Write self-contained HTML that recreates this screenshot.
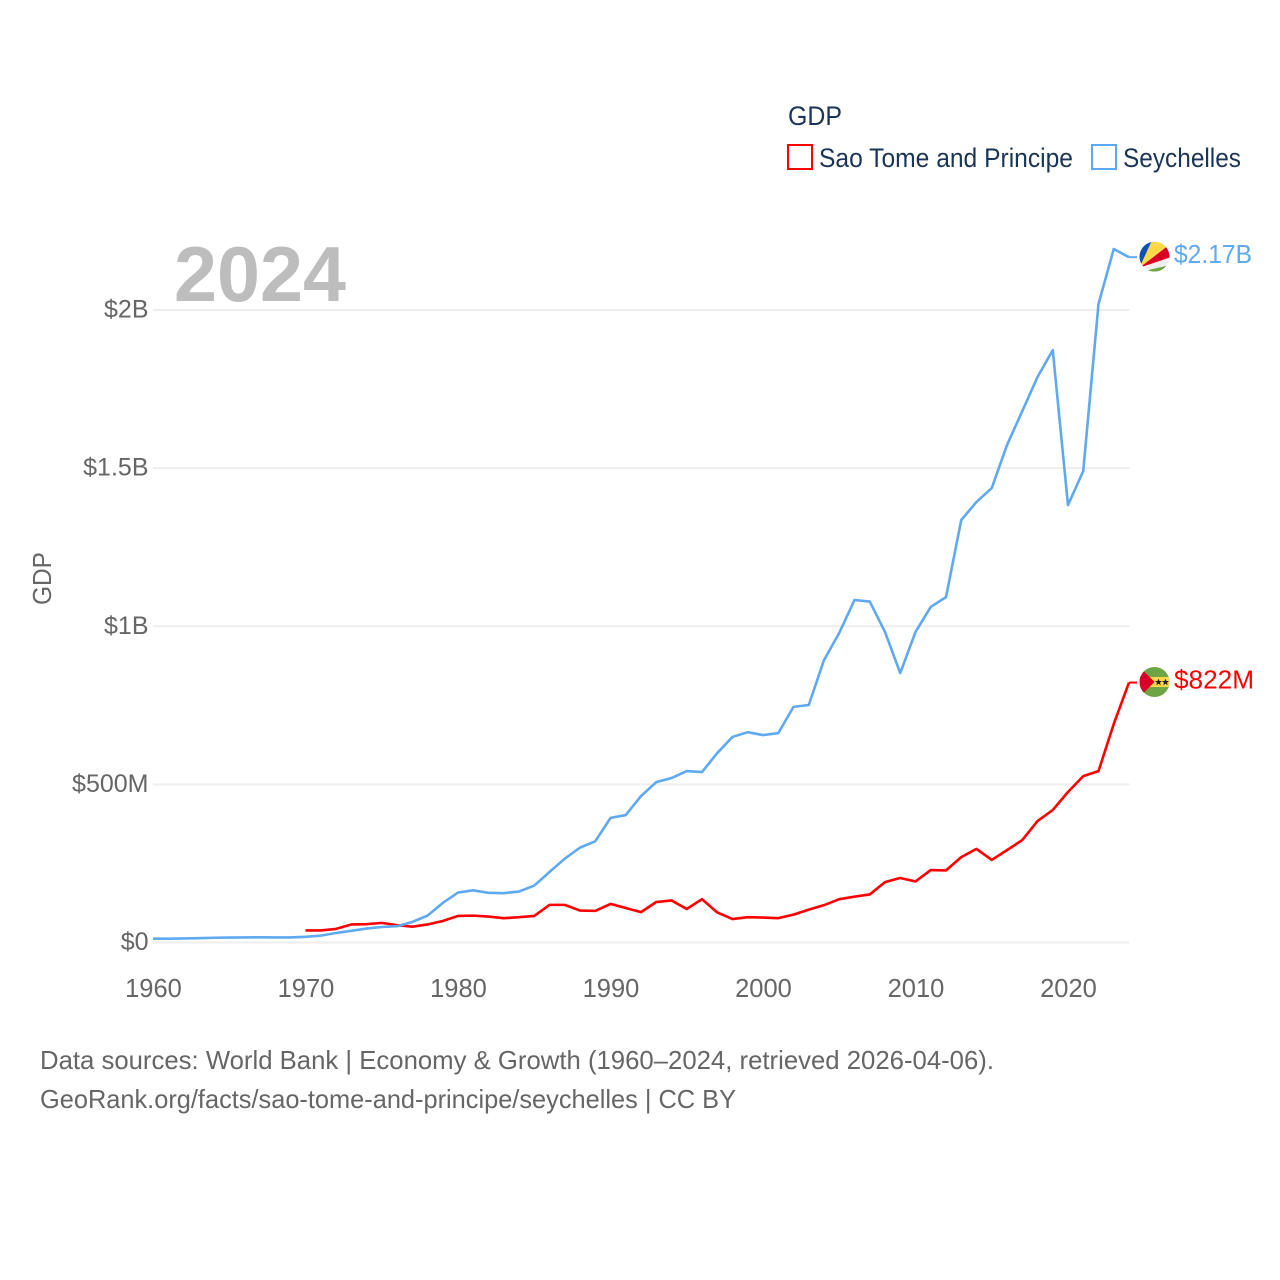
<!DOCTYPE html>
<html lang="en">
<head>
<meta charset="utf-8">
<title>GDP: Sao Tome and Principe vs Seychelles</title>
<style>
html,body{margin:0;padding:0;background:#fff;}
svg{display:block;}
text{font-family:"Liberation Sans",sans-serif;}
</style>
</head>
<body>
<svg id="chart" xmlns="http://www.w3.org/2000/svg" width="1280" height="1280" viewBox="0 0 1280 1280">
  <defs>
    <clipPath id="flag-clip"><circle cx="0" cy="0" r="15"></circle></clipPath>
  </defs>
  <rect width="1280" height="1280" fill="#ffffff"></rect>

  <g id="grid"></g>
  <g id="y-ticks"></g>
  <g id="x-ticks"></g>

  <text x="174" y="301" font-size="78" font-weight="700" fill="#bdbdbd" textLength="172" lengthAdjust="spacingAndGlyphs">2024</text>
  <text transform="translate(51,578.5) rotate(-90)" text-anchor="middle" font-size="26" fill="#666666" textLength="53" lengthAdjust="spacingAndGlyphs">GDP</text>

  <g>
    <text x="788" y="125" font-size="27" fill="#1a3557" textLength="54" lengthAdjust="spacingAndGlyphs">GDP</text>
    <g>
      <rect x="788" y="145" width="24" height="24" fill="#ffffff" stroke="#ff0000" stroke-width="2"></rect>
      <text x="819" y="167" font-size="27" fill="#1a3557" textLength="254" lengthAdjust="spacingAndGlyphs">Sao Tome and Principe</text>
    </g>
    <g>
      <rect x="1092" y="145" width="24" height="24" fill="#ffffff" stroke="#5ea9ef" stroke-width="2"></rect>
      <text x="1123" y="167" font-size="27" fill="#1a3557" textLength="118" lengthAdjust="spacingAndGlyphs">Seychelles</text>
    </g>
  </g>

  <g id="series"></g>

  <g id="flag-seychelles">
    <g clip-path="url(#flag-clip)">
      <rect x="-15" y="-15" width="30" height="30" fill="#eeeeee"></rect>
      <polygon points="-15,11 -15,-15 -3,-15" fill="#0b50b5"></polygon>
      <polygon points="-15,11 -3,-15 15,-15 15,-12" fill="#ffd84a"></polygon>
      <polygon points="-15,11 15,-12 15,1" fill="#d80027"></polygon>
      <polygon points="-15,15.400 15,8.500 15,15 -15,15" fill="#6da544"></polygon>
    </g>
  </g>
  <g id="flag-sao-tome">
    <g clip-path="url(#flag-clip)">
      <rect x="-15" y="-15" width="30" height="30" fill="#6da544"></rect>
      <rect x="-15" y="-5" width="30" height="10" fill="#ffd84a"></rect>
      <polygon points="-15,-15 0,0 -15,15" fill="#d80027"></polygon>
      <polygon points="4,-3.500 5,-1 7.500,-1 5.500,0.700 6.300,3.200 4,1.700 1.700,3.200 2.500,0.700 0.500,-1 3,-1" fill="#222222"></polygon>
      <polygon points="11,-3.500 12,-1 14.500,-1 12.500,0.700 13.300,3.200 11,1.700 8.700,3.200 9.500,0.700 7.500,-1 10,-1" fill="#222222"></polygon>
    </g>
  </g>
  <text id="value-seychelles" x="1174" font-size="26" fill="#5ea9ef" textLength="78" lengthAdjust="spacingAndGlyphs"></text>
  <text id="value-sao-tome" x="1174" font-size="26" fill="#ff0000" textLength="80" lengthAdjust="spacingAndGlyphs"></text>

  <g>
    <text x="40" y="1069" font-size="26" fill="#666666" textLength="954" lengthAdjust="spacingAndGlyphs">Data sources: World Bank | Economy &amp; Growth (1960–2024, retrieved 2026-04-06).</text>
    <text x="40" y="1108" font-size="26" fill="#666666" textLength="696" lengthAdjust="spacingAndGlyphs">GeoRank.org/facts/sao-tome-and-principe/seychelles | CC BY</text>
  </g>
</svg>

<script>
// Chart data (GDP in millions of US dollars)
const seychellesStartYear = 1960;
const saoTomeStartYear = 1970;
const seychellesGdp = [12, 12, 12.7, 13.5, 15, 15.5, 16, 16.5, 16, 15.9,
  18, 21.8, 30, 37, 44, 49, 51.5, 65, 85, 125,
  158, 165, 157, 156, 161, 180, 223, 265, 300, 320,
  394, 403, 463, 507, 520, 542, 539, 599, 650, 665,
  656, 662, 745, 751, 893, 979, 1083, 1078, 982, 852,
  982, 1061, 1092, 1336, 1393, 1437, 1573, 1680, 1788, 1873,
  1383, 1491, 2019, 2193, 2167];
const saoTomeGdp = [38, 38, 43, 57, 58, 62, 55, 50, 57, 68,
  84, 85, 82, 77, 80, 84, 119, 119, 101, 100,
  122, 109, 96, 128, 133, 106, 137, 95, 74, 80,
  79, 77, 88, 104, 118, 137, 145, 152, 191, 204,
  193, 229, 228, 270, 296, 261, 292, 324, 384, 419,
  476, 526, 542, 691, 822];
const xTickYears = [1960, 1970, 1980, 1990, 2000, 2010, 2020];
const xTickLabels = ['1960', '1970', '1980', '1990', '2000', '2010', '2020'];
const yTickValues = [0, 500, 1000, 1500, 2000];
const yTickLabels = ['$0', '$500M', '$1B', '$1.5B', '$2B'];
const endLabels = ['$2.17B', '$822M'];

const SVG_NS = 'http://www.w3.org/2000/svg';
function xScale(year) { return 153 + (year - 1960) * (1129 - 153) / 64; }
function yScale(value) { return 942.5 - value * (942.5 - 310) / 2000; }

const gridLayer = document.getElementById('grid');
const yLayer = document.getElementById('y-ticks');
const xLayer = document.getElementById('x-ticks');
const seriesLayer = document.getElementById('series');

yTickValues.forEach(function (v, i) {
  const line = document.createElementNS(SVG_NS, 'line');
  
  
  line.setAttribute('x1', 153);
  line.setAttribute('x2', 1129.5);
  line.setAttribute('y1', yScale(v));
  line.setAttribute('y2', yScale(v));
  line.setAttribute('stroke', '#eeeeee');
  line.setAttribute('stroke-width', 2);
  gridLayer.appendChild(line);

  const label = document.createElementNS(SVG_NS, 'text');
  
  
  label.setAttribute('x', 148.5);
  label.setAttribute('y', yScale(v) + 7.5);
  label.setAttribute('text-anchor', 'end');
  label.setAttribute('font-size', 25);
  label.setAttribute('fill', '#666666');
  label.textContent = yTickLabels[i];
  yLayer.appendChild(label);
});

xTickYears.forEach(function (year, i) {
  const label = document.createElementNS(SVG_NS, 'text');
  
  
  label.setAttribute('x', xScale(year) + 0.5);
  label.setAttribute('y', 997);
  label.setAttribute('text-anchor', 'middle');
  label.setAttribute('font-size', 25.5);
  label.setAttribute('fill', '#666666');
  label.textContent = xTickLabels[i];
  xLayer.appendChild(label);
});

function linePath(values, startYear) {
  return values.map(function (v, i) {
    return (i ? 'L' : 'M') + xScale(startYear + i).toFixed(2) + ' ' + yScale(v).toFixed(2);
  }).join(' ');
}

const saoTomeLine = document.createElementNS(SVG_NS, 'path');


saoTomeLine.setAttribute('d', linePath(saoTomeGdp, saoTomeStartYear));
saoTomeLine.setAttribute('fill', 'none');
saoTomeLine.setAttribute('stroke', '#ff0000');
saoTomeLine.setAttribute('stroke-width', 2.6);
saoTomeLine.setAttribute('stroke-linejoin', 'round');
seriesLayer.appendChild(saoTomeLine);

const seychellesLine = document.createElementNS(SVG_NS, 'path');


seychellesLine.setAttribute('d', linePath(seychellesGdp, seychellesStartYear));
seychellesLine.setAttribute('fill', 'none');
seychellesLine.setAttribute('stroke', '#5ea9ef');
seychellesLine.setAttribute('stroke-width', 2.6);
seychellesLine.setAttribute('stroke-linejoin', 'round');
seriesLayer.appendChild(seychellesLine);

const seychellesEnd = yScale(seychellesGdp[seychellesGdp.length - 1]);
const saoTomeEnd = yScale(saoTomeGdp[saoTomeGdp.length - 1]);

const seychellesStub = document.createElementNS(SVG_NS, 'line');


seychellesStub.setAttribute('x1', 1129);
seychellesStub.setAttribute('x2', 1137);
seychellesStub.setAttribute('y1', seychellesEnd);
seychellesStub.setAttribute('y2', seychellesEnd);
seychellesStub.setAttribute('stroke', '#5ea9ef');
seychellesStub.setAttribute('stroke-width', 2);
seriesLayer.appendChild(seychellesStub);

const saoTomeStub = document.createElementNS(SVG_NS, 'line');


saoTomeStub.setAttribute('x1', 1129);
saoTomeStub.setAttribute('x2', 1137);
saoTomeStub.setAttribute('y1', saoTomeEnd);
saoTomeStub.setAttribute('y2', saoTomeEnd);
saoTomeStub.setAttribute('stroke', '#ff0000');
saoTomeStub.setAttribute('stroke-width', 2);
seriesLayer.appendChild(saoTomeStub);

document.getElementById('flag-seychelles').setAttribute('transform', 'translate(1154.5,' + (seychellesEnd - 0.5) + ')');
document.getElementById('flag-sao-tome').setAttribute('transform', 'translate(1154.5,' + (saoTomeEnd - 0.5) + ')');

const seychellesValue = document.getElementById('value-seychelles');
seychellesValue.setAttribute('y', seychellesEnd + 6);
seychellesValue.textContent = endLabels[0];
const saoTomeValue = document.getElementById('value-sao-tome');
saoTomeValue.setAttribute('y', saoTomeEnd + 6);
saoTomeValue.textContent = endLabels[1];
</script>
</body>
</html>
